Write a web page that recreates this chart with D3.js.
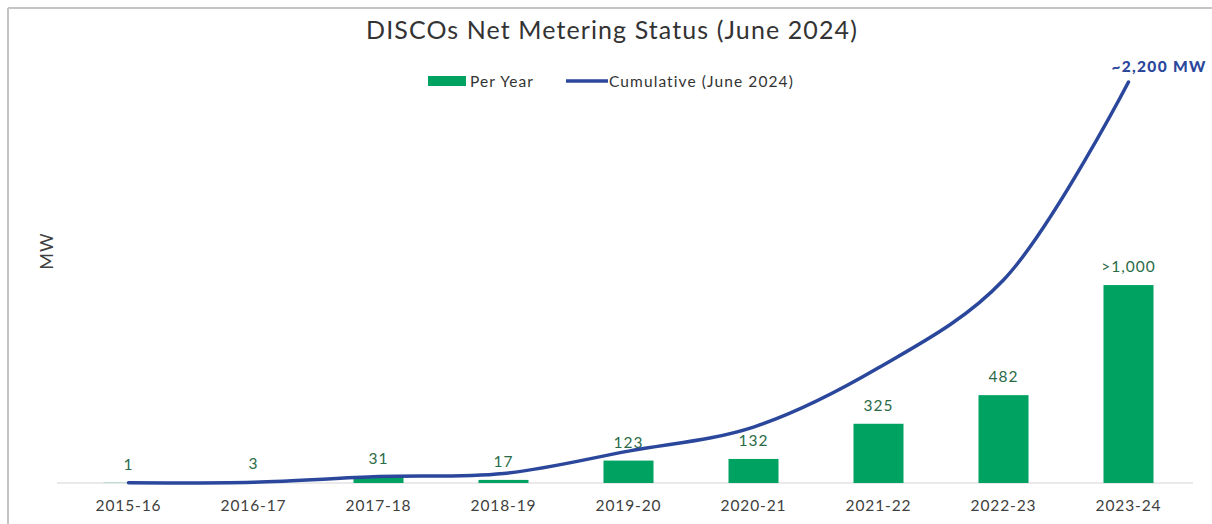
<!DOCTYPE html>
<html>
<head>
<meta charset="utf-8">
<script src="https://cdn.jsdelivr.net/npm/d3@7"></script>
<style>
  html, body { margin: 0; padding: 0; background: #fff; }
  svg { display: block; font-family: Lato, "Open Sans", sans-serif; }
</style>
</head>
<body>
<svg id="chart" width="1212" height="524"></svg>
<script>
// Fiscal years
const categories = ["2015-16", "2016-17", "2017-18", "2018-19", "2019-20", "2020-21", "2021-22", "2022-23", "2023-24"];
// Net metering capacity added per year (MW)
const perYear = [1, 3, 31, 17, 123, 132, 325, 482, 1086];
// Bar labels as printed
const perYearLabels = ["1", "3", "31", "17", "123", "132", "325", "482", ">1,000"];
// Cumulative capacity (MW)
const cumulative = [1, 4, 35, 52, 175, 307, 632, 1114, 2200];
const cumulativeEndLabel = "~2,200 MW";

const W = 1212, H = 524;
const svg = d3.select("#chart");

// frame lines (top & left)
svg.append("line").attr("x1", 8).attr("x2", W).attr("y1", 8).attr("y2", 8)
  .attr("stroke", "#c4c4c4").attr("stroke-width", 2);
svg.append("line").attr("x1", 8).attr("x2", 8).attr("y1", 8).attr("y2", H)
  .attr("stroke", "#c4c4c4").attr("stroke-width", 2);

const x = d3.scaleBand().domain(categories).range([66, 1191]).paddingInner(0.6).paddingOuter(0.3);
const xc = d => x(d) + x.bandwidth() / 2;
const y = d3.scaleLinear().domain([0, 2200]).range([483, 82]);

// title
svg.append("text").attr("x", 612).attr("y", 39).attr("text-anchor", "middle")
  .attr("font-size", 25).attr("letter-spacing", 1.1).attr("fill", "#333")
  .text("DISCOs Net Metering Status (June 2024)");

// legend
const lg = svg.append("g").attr("font-size", 15.5).attr("letter-spacing", 1.1).attr("fill", "#333");
lg.append("rect").attr("x", 428).attr("y", 76).attr("width", 38).attr("height", 10).attr("fill", "#00a262");
lg.append("text").attr("x", 470).attr("y", 86.5).text("Per Year");
lg.append("line").attr("x1", 566).attr("x2", 608).attr("y1", 81).attr("y2", 81)
  .attr("stroke", "#2b479c").attr("stroke-width", 3.5);
lg.append("text").attr("x", 609).attr("y", 86.5).text("Cumulative (June 2024)");

// y-axis title
svg.append("text").attr("transform", "translate(53,251) rotate(-90)")
  .attr("text-anchor", "middle").attr("font-size", 18).attr("letter-spacing", 1)
  .attr("fill", "#404040").text("MW");

// baseline
svg.append("line").attr("x1", 57).attr("x2", 1193).attr("y1", y(0)).attr("y2", y(0))
  .attr("stroke", "#e3e3e3").attr("stroke-width", 1.5);

// x axis
const xAxis = svg.append("g").attr("transform", `translate(0,${y(0)})`)
  .call(d3.axisBottom(x).tickSize(0).tickPadding(17));
xAxis.select(".domain").remove();
xAxis.selectAll("text").attr("font-size", 15.5).attr("letter-spacing", 0.9)
  .attr("fill", "#404040").attr("font-family", "Lato, sans-serif");

// bars
svg.append("g").selectAll("rect").data(categories).join("rect")
  .attr("x", d => x(d))
  .attr("width", x.bandwidth())
  .attr("y", (d, i) => y(perYear[i]))
  .attr("height", (d, i) => y(0) - y(perYear[i]))
  .attr("fill", "#00a262");

// bar labels
svg.append("g").selectAll("text").data(categories).join("text")
  .attr("x", d => xc(d))
  .attr("y", (d, i) => y(perYear[i]) - 13)
  .attr("text-anchor", "middle").attr("font-size", 15.5).attr("letter-spacing", 1)
  .attr("fill", "#2a6b47")
  .text((d, i) => perYearLabels[i]);

// cumulative line
const line = d3.line().x((d, i) => xc(categories[i])).y(d => y(d)).curve(d3.curveCatmullRom.alpha(0.5));
svg.append("path").datum(cumulative).attr("d", line)
  .attr("fill", "none").attr("stroke", "#2b479c").attr("stroke-width", 3.5).attr("stroke-linecap", "round");

// end label
const last = cumulative.length - 1;
svg.append("text").attr("x", xc(categories[last]) - 17).attr("y", y(cumulative[last]) - 10)
  .attr("font-size", 15.5).attr("font-weight", 900).attr("letter-spacing", 1.3)
  .attr("fill", "#2b479c").text(cumulativeEndLabel);
</script>
</body>
</html>
